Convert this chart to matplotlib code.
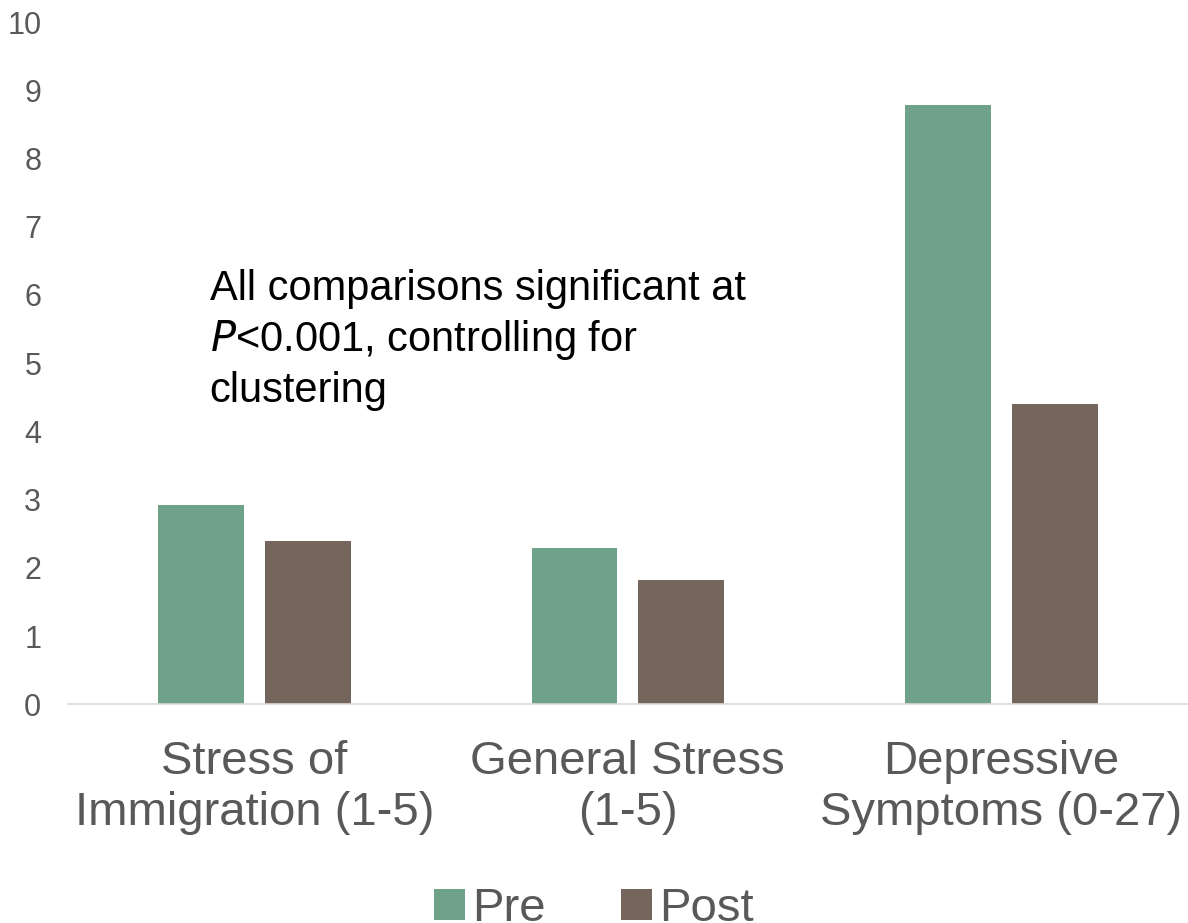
import matplotlib
matplotlib.use("Agg")
import matplotlib.pyplot as plt
import numpy as np

categories = ["Stress of\nImmigration (1-5)", "General Stress\n(1-5)", "Depressive\nSymptoms (0-27)"]
pre = [2.92, 2.29, 8.78]
post = [2.40, 1.82, 4.40]
yticks = list(range(0, 11))

plt.rcParams['font.family'] = ['Liberation Sans', 'DejaVu Sans']
fig = plt.figure(figsize=(11.88, 9.23), dpi=100)
ax = fig.add_axes([0.057, 0.237, 0.943, 0.739])
x = np.arange(len(categories))
w = 0.23
ax.bar(x - 0.143, pre, w, color="#70A28A", label="Pre")
ax.bar(x + 0.143, post, w, color="#75665D", label="Post")
ax.set_xlim(-0.5, 2.5)
ax.set_ylim(0, 10)
ax.set_yticks(yticks)
ax.tick_params(axis='y', length=0, labelsize=22, labelcolor="#595959", pad=19)
ax.set_xticks(x)
ax.set_xticklabels(categories, fontsize=34, color="#595959", linespacing=1.2)
ax.tick_params(axis='x', length=0, pad=26)
for s in ["top", "right", "left"]:
    ax.spines[s].set_visible(False)
ax.spines["bottom"].set_color("#D9D9D9")
ax.spines["bottom"].set_linewidth(1.2)
ax.text(-0.12, 6.38, "All comparisons significant at\n$\\it{P}$<0.001, controlling for\nclustering",
        fontsize=30, va="top", ha="left", color="black", linespacing=1.28)
fig.legend(loc="lower center", bbox_to_anchor=(0.5, -0.055), ncol=2, frameon=False,
           fontsize=34, labelcolor="#595959", handlelength=0.65, handleheight=0.65,
           handletextpad=0.15, columnspacing=1.6)
fig.savefig("out.png", dpi=100)
